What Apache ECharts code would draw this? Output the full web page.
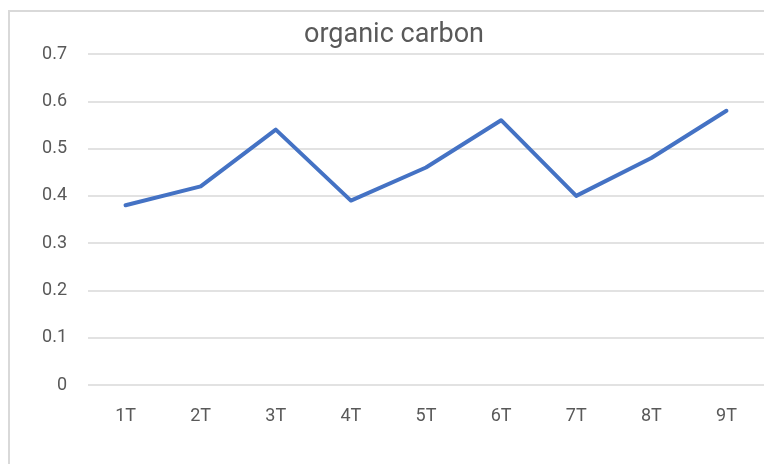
<!DOCTYPE html>
<html>
<head>
<meta charset="utf-8">
<script src="https://cdn.jsdelivr.net/npm/echarts@6/dist/echarts.min.js"></script>
<style>
    html, body { margin: 0; padding: 0; background: #fff; }
    #frame { position: absolute; left: 8px; top: 10px; width: 800px; height: 500px; border: 2px solid #d9d9d9; }
    #main { position: absolute; left: 0; top: 0; width: 764px; height: 464px; }
</style>
</head>
<body>
<div id="frame"></div>
<div id="main"></div>
<script>
// 数据
var categories = ['1T', '2T', '3T', '4T', '5T', '6T', '7T', '8T', '9T'];
var organicCarbon = [0.38, 0.42, 0.54, 0.39, 0.46, 0.56, 0.40, 0.48, 0.58];
var yTicks = [0, 0.1, 0.2, 0.3, 0.4, 0.5, 0.6, 0.7];

var myChart = echarts.init(document.getElementById('main'));

var option = {
    animation: false,
    title: {
        text: 'organic carbon',
        left: 389,
        textAlign: 'center',
        top: 17,
        textStyle: {
            fontFamily: 'Roboto',
            fontSize: 27,
            fontWeight: 'normal',
            color: '#595959'
        }
    },
    grid: {
        left: 88,
        top: 54,
        width: 680,
        height: 331
    },
    xAxis: {
        type: 'category',
        data: categories,
        boundaryGap: true,
        axisLine: { show: false },
        axisTick: { show: false },
        axisLabel: {
            margin: 22,
            fontFamily: 'Roboto',
            fontSize: 18,
            color: '#595959'
        }
    },
    yAxis: {
        type: 'value',
        min: yTicks[0],
        max: yTicks[yTicks.length - 1],
        interval: 0.1,
        axisLine: { show: false },
        axisTick: { show: false },
        splitLine: { lineStyle: { color: '#d9d9d9', width: 1.5 } },
        axisLabel: {
            margin: 21,
            fontFamily: 'Roboto',
            fontSize: 18,
            color: '#595959',
            formatter: function (v) { return String(Math.round(v * 10) / 10); }
        }
    },
    series: [
        {
            name: 'organic carbon',
            type: 'line',
            data: organicCarbon,
            showSymbol: false,
            lineStyle: { color: '#4472C4', width: 4, cap: 'round', join: 'round' },
            itemStyle: { color: '#4472C4' }
        }
    ]
};

myChart.setOption(option);
window.onresize = myChart.resize;
</script>
</body>
</html>
